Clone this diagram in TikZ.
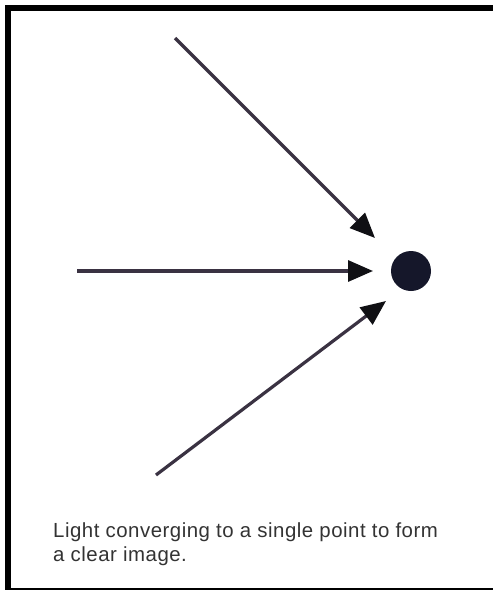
\documentclass[tikz,border=0pt]{standalone}
\usepackage{fontspec}
\setmainfont{Liberation Sans}[LetterSpace=2.5]
\usetikzlibrary{arrows.meta}
\definecolor{rayc}{HTML}{3A3242}
\definecolor{headc}{HTML}{101014}
\definecolor{dotc}{HTML}{15172A}
\definecolor{txtc}{HTML}{333333}
\tikzset{
  ray/.style={draw=rayc, line width=3.2pt,
    -{Triangle[length=25pt,width=21pt,fill=headc,color=headc]}},
  frameline/.style={fill=black},
  caption/.style={text=txtc, font=\fontsize{20.4}{24}\selectfont, align=left, inner sep=0pt, anchor=north west}
}
\begin{document}
\begin{tikzpicture}[x=1pt,y=-1pt]
\useasboundingbox (0,0) rectangle (493,590);
\fill[white] (0,0) rectangle (493,590);
% frame
\fill[frameline] (5,5) rectangle (493,11);
\fill[frameline] (5,5) rectangle (11,590);
\fill[frameline] (11,587.5) rectangle (493,589.5);
% dot
\node[circle, fill=dotc, minimum size=40pt, inner sep=0pt] (dot) at (411,271) {};
% ray starts
\coordinate (s1) at (175,38);
\coordinate (s2) at (77,271);
\coordinate (s3) at (156,475);
\coordinate (t1) at (375,238);
\coordinate (t2) at (373,271);
\coordinate (t3) at (386,301);
\draw[ray] (s1) -- (t1);
\draw[ray] (s2) -- (t2);
\draw[ray] (s3) -- (t3);
% caption
\node[caption] (cap) at (53,523) {Light converging to a single point to form\\a clear image.};
\end{tikzpicture}
\end{document}
